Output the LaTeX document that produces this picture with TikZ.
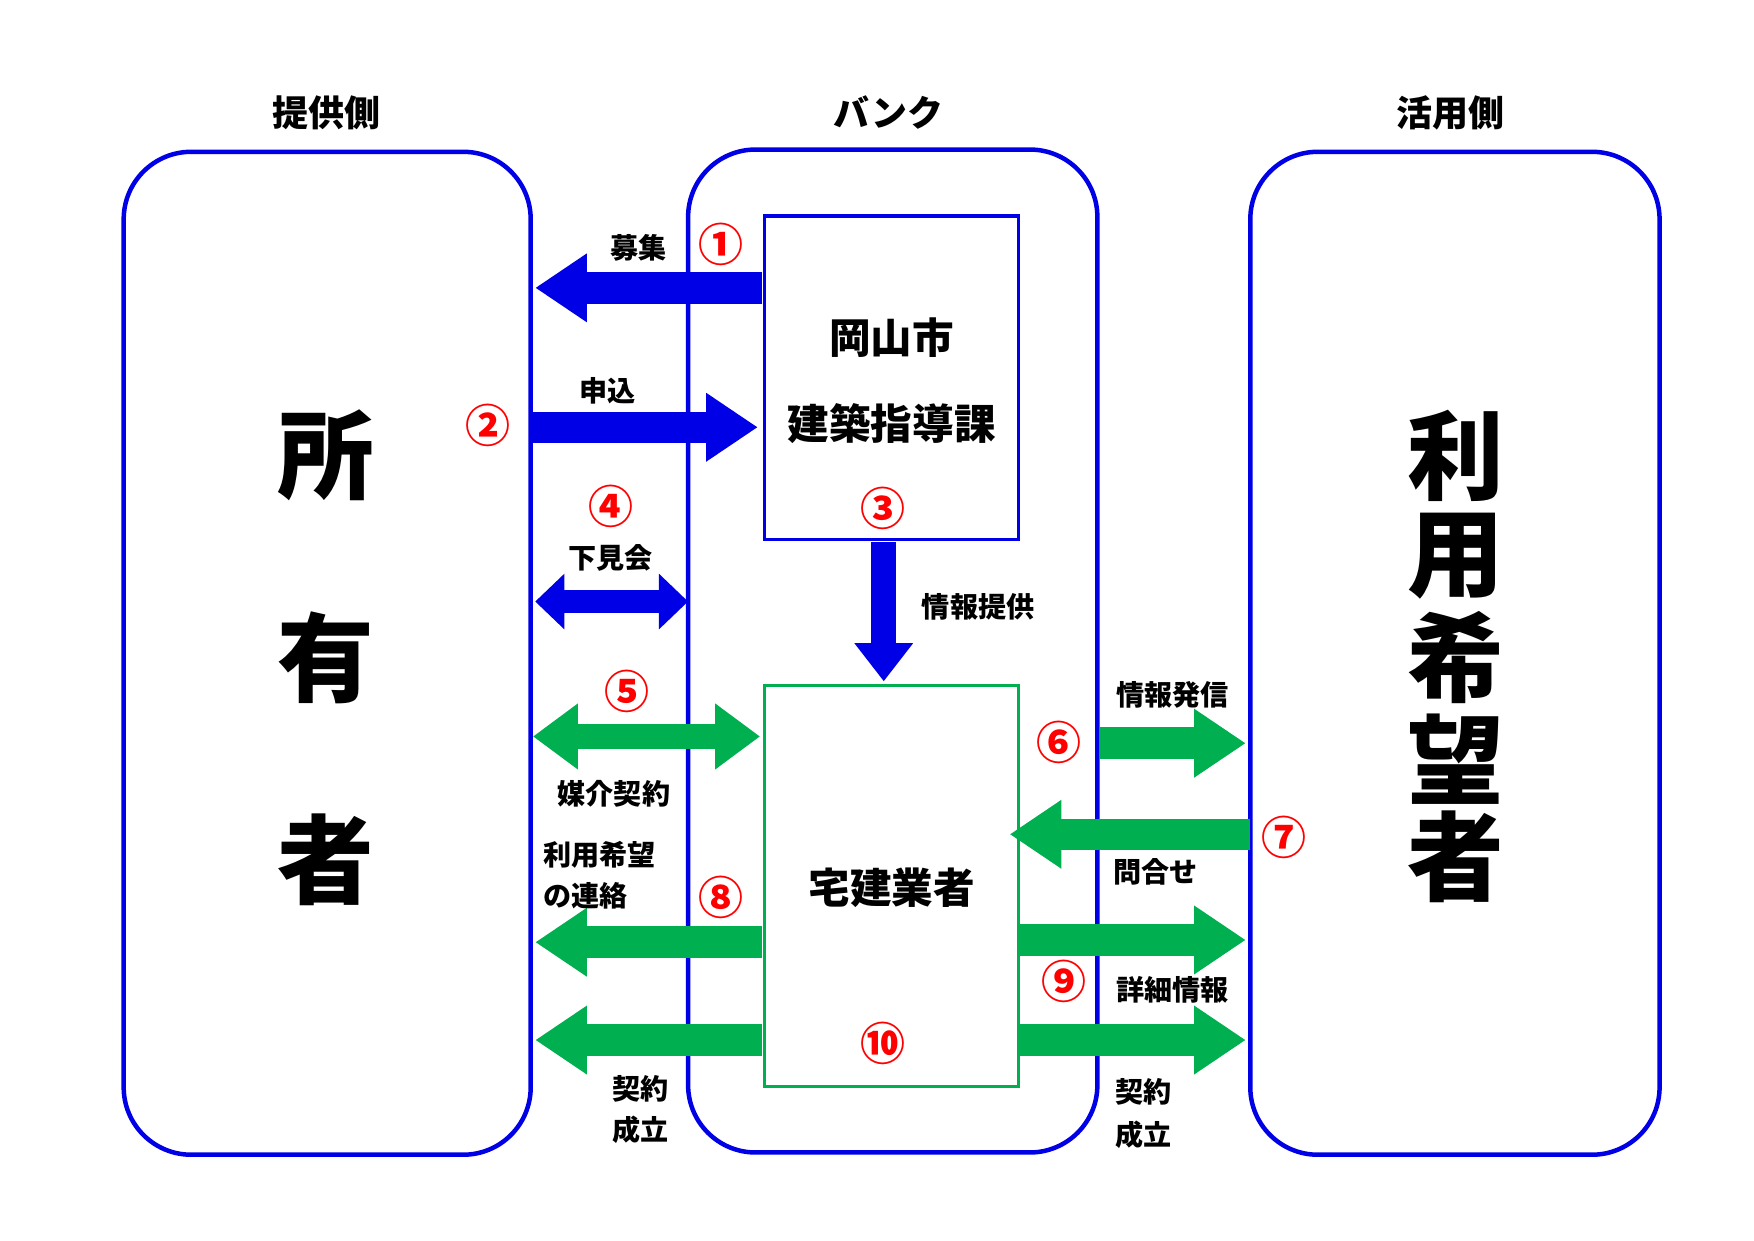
\documentclass[tikz,border=0pt]{standalone}
\usepackage{fontspec}
\setmainfont{Noto Sans CJK JP}
\usetikzlibrary{arrows.meta}
\definecolor{bl}{RGB}{0,0,230}
\definecolor{gr}{RGB}{0,176,80}
\begin{document}
\begin{tikzpicture}[x=1pt,y=-1pt,
  grp/.style={draw=bl,line width=4pt,rounded corners=60pt},
  ttl/.style={font=\bfseries\fontsize{32}{32}\selectfont},
  big/.style={font=\bfseries\fontsize{86}{86}\selectfont},
  box/.style={font=\bfseries\fontsize{37}{37}\selectfont},
  lab/.style={font=\bfseries\fontsize{25}{25}\selectfont},
  num/.style={text=red,font=\bfseries\fontsize{40}{40}\selectfont},
  arB/.style={draw=bl,line width=28pt,-{Triangle[width=58pt,length=46pt]}},
  arG/.style={draw=gr,line width=28pt,-{Triangle[width=58pt,length=46pt]}},
  dbB/.style={draw=bl,line width=20pt,{Triangle[width=48pt,length=26pt]}-{Triangle[width=48pt,length=26pt]}},
  dbG/.style={draw=gr,line width=22pt,{Triangle[width=56pt,length=40pt]}-{Triangle[width=56pt,length=40pt]}}]
\useasboundingbox (0,0) rectangle (1560,1103);
\node[grp,minimum width=362pt,minimum height=892pt] (L) at (291,581) {};
\node[grp,minimum width=364pt,minimum height=892pt] (M) at (794,579) {};
\node[grp,minimum width=364pt,minimum height=892pt] (R) at (1294,581) {};
\node[ttl] (t1) at (290,100) {提供側};
\node[ttl] (t2) at (790,100) {バンク};
\node[ttl] (t3) at (1290,100) {活用側};
\node[draw=bl,line width=3pt,fill=white,minimum width=226pt,minimum height=288pt] (K) at (793,336) {};
\node[draw=gr,line width=3pt,fill=white,minimum width=226pt,minimum height=357pt] (T) at (793,788) {};
\node[box] (k1) at (793,300) {岡山市};
\node[box] (k2) at (793,377) {建築指導課};
\node[box] (t) at (793,790) {宅建業者};
\node[num] (n3) at (785,452) {③};
\node[num] (n10) at (785,928) {⑩};
\foreach \c/\y [count=\i] in {所/405,有/585,者/765}{\node[big] (o\i) at (290,\y) {\c};}
\foreach \c/\y [count=\i] in {利/405,用/495,希/585,望/675,者/762}{\node[big] (u\i) at (1295,\y) {\c};}
\coordinate (a1s) at (678,256); \coordinate (a1e) at (476,256);
\coordinate (a2s) at (474,380); \coordinate (a2e) at (674,380);
\coordinate (a4s) at (476,535); \coordinate (a4e) at (612,535);
\coordinate (a3s) at (786,482); \coordinate (a3e) at (786,606);
\coordinate (a5s) at (474,655); \coordinate (a5e) at (676,655);
\coordinate (a6s) at (978,661); \coordinate (a6e) at (1108,661);
\coordinate (a7s) at (1112,742); \coordinate (a7e) at (898,742);
\coordinate (a8s) at (678,838); \coordinate (a8e) at (476,838);
\coordinate (a9s) at (906,836); \coordinate (a9e) at (1108,836);
\coordinate (b1s) at (678,925); \coordinate (b1e) at (476,925);
\coordinate (b2s) at (906,925); \coordinate (b2e) at (1108,925);
\draw[arB] (a1s) -- (a1e);
\draw[arB] (a2s) -- (a2e);
\draw[dbB] (a4s) -- (a4e);
\draw[draw=bl,line width=22pt,-{Triangle[width=50pt,length=34pt]}] (a3s) -- (a3e);
\draw[dbG] (a5s) -- (a5e);
\draw[arG] (a6s) -- (a6e);
\draw[arG] (a7s) -- (a7e);
\draw[arG] (a8s) -- (a8e);
\draw[arG] (a9s) -- (a9e);
\draw[arG] (b1s) -- (b1e);
\draw[arG] (b2s) -- (b2e);
\node[lab] (l1) at (568,220) {募集};
\node[num] (n1) at (641,217) {①};
\node[lab] (l2) at (540,348) {申込};
\node[num] (n2) at (434,378) {②};
\node[lab] (l4) at (543,496) {下見会};
\node[num] (n4) at (543,450) {④};
\node[lab] (l3) at (870,540) {情報提供};
\node[num] (n5) at (558,615) {⑤};
\node[lab] (l5) at (546,706) {媒介契約};
\node[num] (n6) at (942,660) {⑥};
\node[lab] (l6) at (1043,618) {情報発信};
\node[num] (n7) at (1142,745) {⑦};
\node[lab] (l7) at (1028,775) {問合せ};
\node[lab,anchor=west] (l8a) at (480,760) {利用希望};
\node[lab,anchor=west] (l8b) at (480,797) {の連絡};
\node[num] (n8) at (641,798) {⑧};
\node[num] (n9) at (946,873) {⑨};
\node[lab] (l9) at (1043,880) {詳細情報};
\node[lab] (c1) at (570,968) {契約};
\node[lab] (c2) at (570,1005) {成立};
\node[lab] (c3) at (1017,971) {契約};
\node[lab] (c4) at (1017,1009) {成立};
\end{tikzpicture}
\end{document}
